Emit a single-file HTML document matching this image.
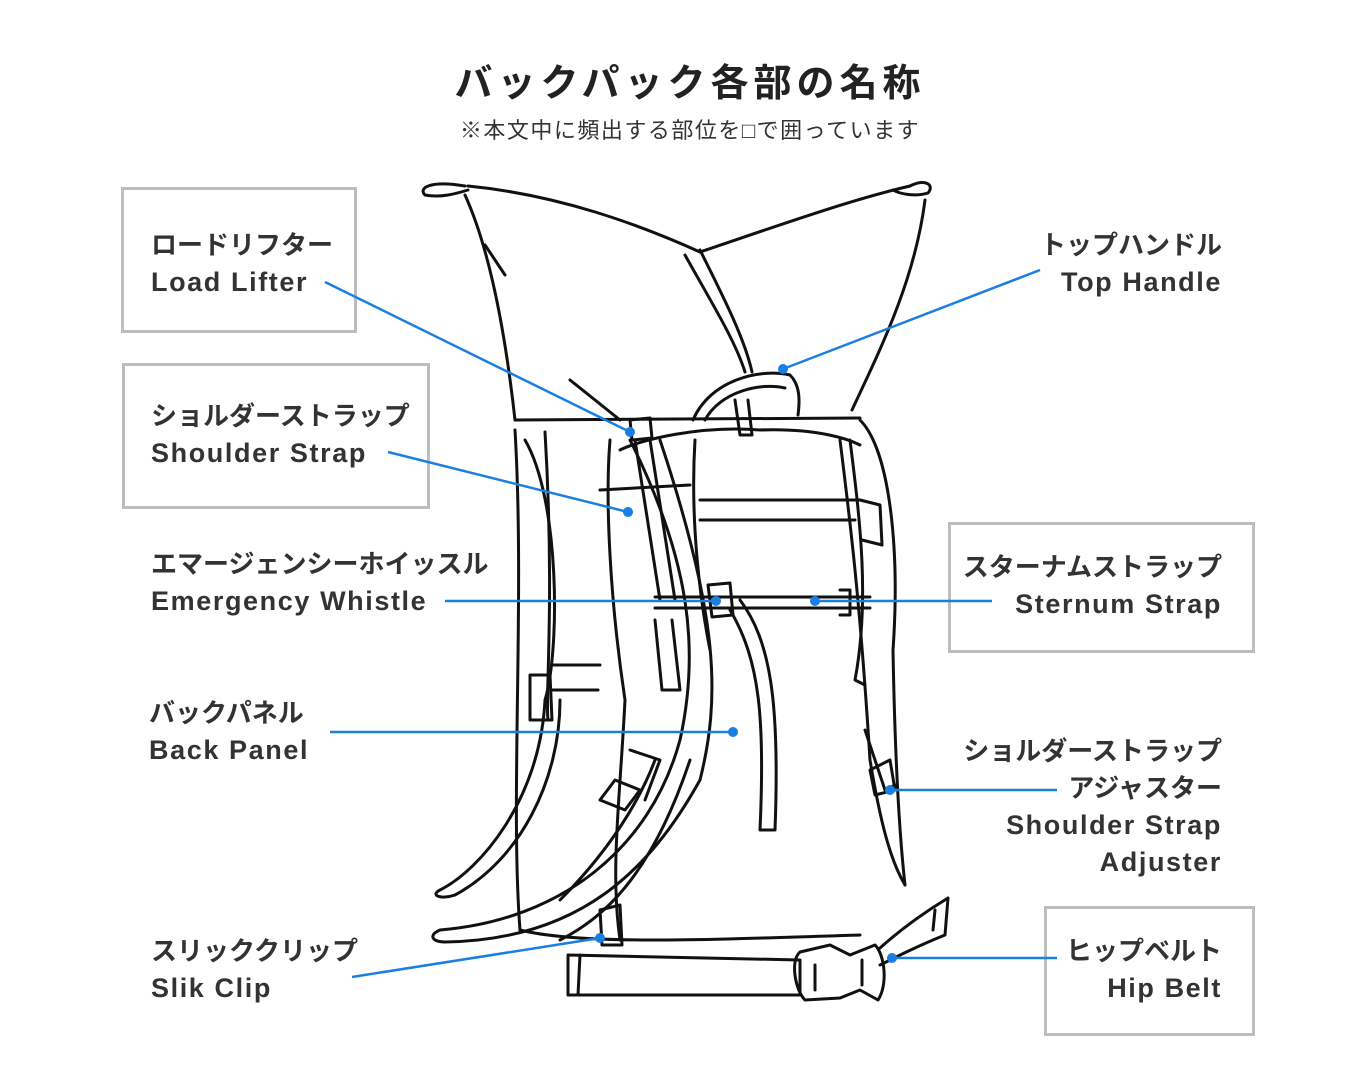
<!DOCTYPE html>
<html><head><meta charset="utf-8"><style>
html,body{margin:0;padding:0;background:#fff;}
body{width:1350px;height:1080px;position:relative;overflow:hidden;font-family:"Liberation Sans","Noto Sans CJK JP",sans-serif;color:#333;}
.t{position:absolute;font-weight:bold;font-size:26px;line-height:37px;white-space:nowrap;}
.t span{letter-spacing:1.6px;font-size:27px;}
.r{text-align:right;}
.box{position:absolute;border:3px solid #bdbdbd;box-sizing:border-box;}
</style></head><body>
<div style="position:absolute;left:0;width:1380px;top:52px;text-align:center;font-size:38px;font-weight:bold;color:#222;letter-spacing:5px;">バックパック各部の名称</div>
<div style="position:absolute;left:0;width:1380px;top:113px;text-align:center;font-size:22px;color:#333;letter-spacing:1.5px;">※本文中に頻出する部位を□で囲っています</div>

<div class="box" style="left:121px;top:187px;width:236px;height:146px"></div>
<div class="box" style="left:122px;top:363px;width:308px;height:146px"></div>
<div class="box" style="left:948px;top:522px;width:307px;height:131px"></div>
<div class="box" style="left:1044px;top:906px;width:211px;height:130px"></div>

<div class="t" style="left:151px;top:227px">ロードリフター<br><span>Load Lifter</span></div>
<div class="t" style="left:151px;top:398px">ショルダーストラップ<br><span>Shoulder Strap</span></div>
<div class="t" style="left:151px;top:546px">エマージェンシーホイッスル<br><span>Emergency Whistle</span></div>
<div class="t" style="left:149px;top:695px">バックパネル<br><span>Back Panel</span></div>
<div class="t" style="left:151px;top:933px">スリッククリップ<br><span>Slik Clip</span></div>
<div class="t r" style="right:128px;top:227px">トップハンドル<br><span>Top Handle</span></div>
<div class="t r" style="right:128px;top:549px">スターナムストラップ<br><span>Sternum Strap</span></div>
<div class="t r" style="right:128px;top:733px">ショルダーストラップ<br>アジャスター<br><span>Shoulder Strap</span><br><span>Adjuster</span></div>
<div class="t r" style="right:128px;top:933px">ヒップベルト<br><span>Hip Belt</span></div>

<svg width="1350" height="1080" style="position:absolute;left:0;top:0" fill="none" stroke="#111" stroke-width="3" stroke-linecap="round" stroke-linejoin="round">
<path d="M465,186 C430,180 418,188 425,195 C440,198 455,194 468,190"/>
<path d="M910,186 C925,178 935,185 928,193 C915,197 900,194 893,190"/>
<path d="M468,186 C560,195 640,225 700,252"/>
<path d="M700,252 C780,225 850,200 910,186"/>
<path d="M465,195 C490,250 505,330 515,420"/>
<path d="M925,200 C915,280 880,350 852,410"/>
<path d="M685,255 C710,300 735,340 745,372"/>
<path d="M700,250 C725,300 745,340 752,372"/>
<path d="M485,245 L505,275"/>
<path d="M570,380 L620,420"/>
<path d="M693,420 C710,380 760,368 790,375 C800,385 800,400 798,415"/>
<path d="M705,420 C720,392 760,382 785,388"/>
<path d="M515,420 L860,418"/>
<path d="M515,430 C525,600 510,800 520,930"/>
<path d="M545,432 C555,600 545,700 548,720"/>
<path d="M552,665 L600,665 M552,690 L598,690"/>
<path d="M610,440 C605,500 610,600 625,700 C620,800 610,870 620,940"/>
<path d="M620,450 C640,440 700,425 760,430 C820,428 850,440 860,445"/>
<path d="M695,440 C690,520 700,600 710,650"/>
<path d="M860,420 C890,450 900,550 893,650 C895,760 900,840 905,885"/>
<path d="M840,440 C850,520 860,600 870,760 C880,820 890,860 905,885"/>
<path d="M700,500 L860,500 M700,520 L855,520"/>
<path d="M600,490 L690,485"/>
<path d="M520,930 C580,945 700,940 860,935"/>
<path d="M560,940 C600,920 650,880 690,760"/>
<path d="M630,440 C690,560 700,650 680,740 C650,850 560,920 440,930 C428,935 432,942 445,942 C580,940 650,870 700,780 C720,700 720,620 660,440"/>
<path d="M560,900 C610,850 640,800 655,760"/>
<path d="M600,800 L625,810 L640,790 L615,780 Z"/>
<path d="M630,750 L660,760 L645,800"/>
<path d="M740,600 C770,640 780,700 775,830 L760,830 C765,720 760,660 730,610"/>
<path d="M525,440 C560,500 560,650 545,700 C540,800 480,870 440,890 C430,895 440,900 455,895 C520,860 560,780 560,700"/>
<path d="M530,675 L550,675 L552,720 L530,720 Z"/>
<path d="M635,440 L660,600 M650,440 L675,600"/>
<path d="M655,620 L662,690 L680,690 L672,620"/>
<path d="M630,420 L650,418 L652,438 L632,440 Z"/>
<path d="M735,400 L740,435 L752,435 L748,400"/>
<path d="M850,440 C860,520 870,600 855,680 L865,685"/>
<path d="M860,500 L880,505 L882,545 L862,540"/>
<path d="M655,597 L870,597 M655,608 L870,608"/>
<path d="M708,585 L730,583 L733,615 L712,617 Z"/>
<path d="M840,590 L850,590 L850,615 L840,615"/>
<path d="M865,730 L885,790 L895,785"/>
<path d="M870,770 L890,760 L895,790 L875,795 Z"/>
<path d="M568,955 L800,960 L800,995 L568,995 Z"/>
<path d="M580,955 L578,995"/>
<path d="M800,952 C790,960 795,990 805,1000 L840,998 L860,990 L878,1000 C888,985 885,955 875,945 L850,955 L830,945 Z"/>
<path d="M815,965 L815,990 M862,960 L862,985"/>
<path d="M880,948 C900,930 920,915 948,898 L945,935 C920,945 900,955 880,965"/>
<path d="M935,910 L933,930"/>
<path d="M600,910 L620,905 L622,945 L602,945 Z"/>
</svg>

<svg width="1350" height="1080" style="position:absolute;left:0;top:0" fill="none" stroke="#1a7fe0" stroke-width="2.5">
<path d="M325,282 L630,432"/>
<path d="M388,452 L628,512"/>
<path d="M445,601 L716,601"/>
<path d="M330,732 L733,732"/>
<path d="M352,977 L600,938"/>
<path d="M1040,270 L783,369"/>
<path d="M992,601 L815,601"/>
<path d="M1057,790 L890,790"/>
<path d="M1057,958 L892,958"/>
<g fill="#1a7fe0" stroke="none">
<circle cx="630" cy="432" r="5"/><circle cx="628" cy="512" r="5"/><circle cx="716" cy="601" r="5"/>
<circle cx="733" cy="732" r="5"/><circle cx="600" cy="938" r="5"/><circle cx="783" cy="369" r="5"/>
<circle cx="815" cy="601" r="5"/><circle cx="890" cy="790" r="5"/><circle cx="892" cy="958" r="5"/>
</g>
</svg>
</body></html>
